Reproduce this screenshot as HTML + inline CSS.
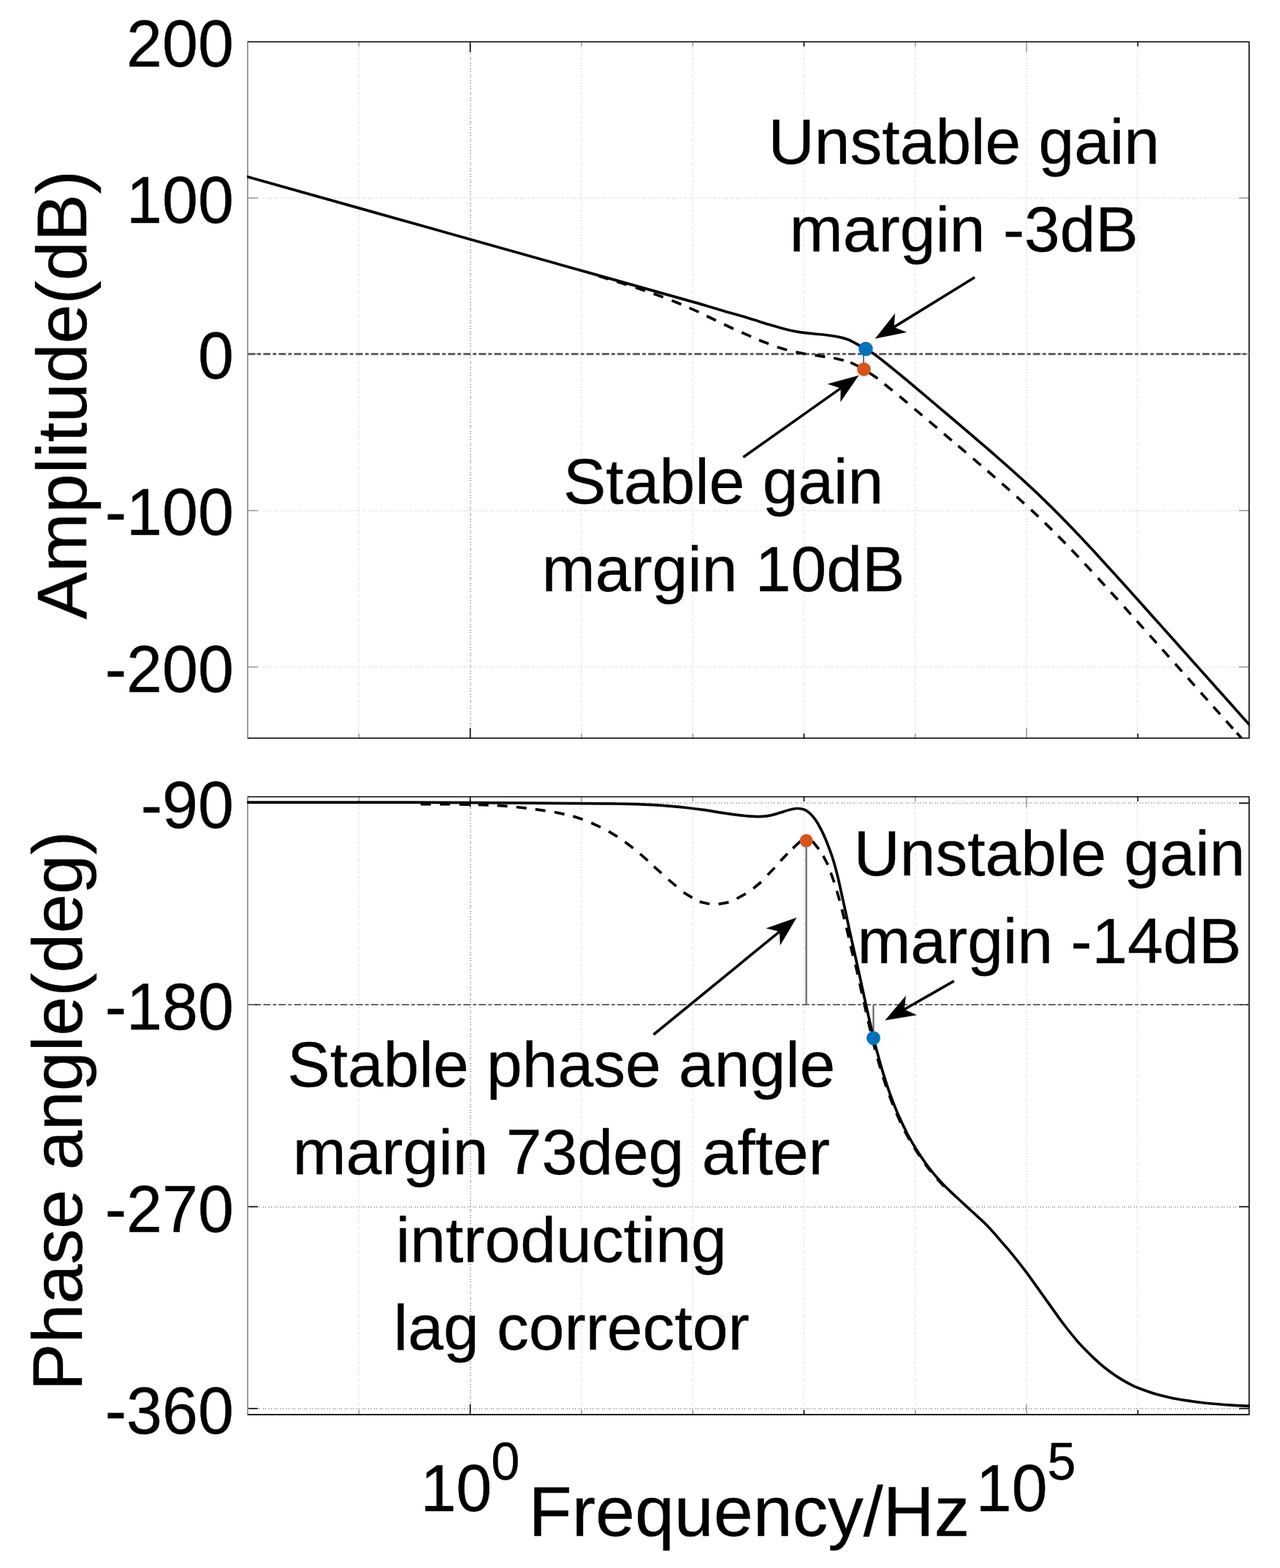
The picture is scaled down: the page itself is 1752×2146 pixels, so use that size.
<!DOCTYPE html>
<html lang="en"><head><meta charset="utf-8"><title>Bode plot</title>
<style>html,body{margin:0;padding:0;background:#fff;}body{width:1752px;height:2146px;overflow:hidden;}svg{display:block;}text{font-family:'Liberation Sans', Arial, Helvetica, sans-serif;fill:#000;stroke:#000;stroke-width:0.35px;}</style>
</head><body>
<svg xmlns="http://www.w3.org/2000/svg" width="1752" height="2146" viewBox="0 0 1752 2146">
<rect x="0" y="0" width="1752" height="2146" fill="#fff"/>
<g id="top">
<line x1="491.00" y1="57.00" x2="491.00" y2="1010.30" stroke="#d8d8d8" stroke-width="2" stroke-dasharray="1 4 1 2"/>
<line x1="644.00" y1="57.00" x2="644.00" y2="1010.30" stroke="#989898" stroke-width="2" stroke-dasharray="1 4 1 2"/>
<line x1="796.00" y1="57.00" x2="796.00" y2="1010.30" stroke="#d8d8d8" stroke-width="2" stroke-dasharray="1 4 1 2"/>
<line x1="948.00" y1="57.00" x2="948.00" y2="1010.30" stroke="#d8d8d8" stroke-width="2" stroke-dasharray="1 4 1 2"/>
<line x1="1100.00" y1="57.00" x2="1100.00" y2="1010.30" stroke="#d8d8d8" stroke-width="2" stroke-dasharray="1 4 1 2"/>
<line x1="1253.00" y1="57.00" x2="1253.00" y2="1010.30" stroke="#d8d8d8" stroke-width="2" stroke-dasharray="1 4 1 2"/>
<line x1="1405.00" y1="57.00" x2="1405.00" y2="1010.30" stroke="#d8d8d8" stroke-width="2" stroke-dasharray="1 4 1 2"/>
<line x1="1557.00" y1="57.00" x2="1557.00" y2="1010.30" stroke="#d8d8d8" stroke-width="2" stroke-dasharray="1 4 1 2"/>
<line x1="339.00" y1="271.00" x2="1709.70" y2="271.00" stroke="#d8d8d8" stroke-width="2" stroke-dasharray="1 4 1 2"/>
<line x1="339.00" y1="699.00" x2="1709.70" y2="699.00" stroke="#d8d8d8" stroke-width="2" stroke-dasharray="1 4 1 2"/>
<line x1="339.00" y1="913.00" x2="1709.70" y2="913.00" stroke="#d8d8d8" stroke-width="2" stroke-dasharray="1 4 1 2"/>
<line x1="491.30" y1="1010.30" x2="491.30" y2="1003.90" stroke="#9a9a9a" stroke-width="1.6"/>
<line x1="491.30" y1="57.20" x2="491.30" y2="63.60" stroke="#9a9a9a" stroke-width="1.6"/>
<line x1="643.60" y1="1010.30" x2="643.60" y2="996.10" stroke="#000" stroke-width="1.6"/>
<line x1="643.60" y1="57.20" x2="643.60" y2="71.40" stroke="#000" stroke-width="1.6"/>
<line x1="795.90" y1="1010.30" x2="795.90" y2="1003.90" stroke="#9a9a9a" stroke-width="1.6"/>
<line x1="795.90" y1="57.20" x2="795.90" y2="63.60" stroke="#9a9a9a" stroke-width="1.6"/>
<line x1="948.20" y1="1010.30" x2="948.20" y2="1003.90" stroke="#9a9a9a" stroke-width="1.6"/>
<line x1="948.20" y1="57.20" x2="948.20" y2="63.60" stroke="#9a9a9a" stroke-width="1.6"/>
<line x1="1100.50" y1="1010.30" x2="1100.50" y2="1003.90" stroke="#000" stroke-width="1.6"/>
<line x1="1100.50" y1="57.20" x2="1100.50" y2="63.60" stroke="#000" stroke-width="1.6"/>
<line x1="1252.80" y1="1010.30" x2="1252.80" y2="1003.90" stroke="#9a9a9a" stroke-width="1.6"/>
<line x1="1252.80" y1="57.20" x2="1252.80" y2="63.60" stroke="#9a9a9a" stroke-width="1.6"/>
<line x1="1405.10" y1="1010.30" x2="1405.10" y2="996.10" stroke="#9a9a9a" stroke-width="1.6"/>
<line x1="1405.10" y1="57.20" x2="1405.10" y2="71.40" stroke="#9a9a9a" stroke-width="1.6"/>
<line x1="1557.40" y1="1010.30" x2="1557.40" y2="1003.90" stroke="#000" stroke-width="1.6"/>
<line x1="1557.40" y1="57.20" x2="1557.40" y2="63.60" stroke="#000" stroke-width="1.6"/>
<line x1="339.00" y1="271.00" x2="352.80" y2="271.00" stroke="#9a9a9a" stroke-width="1.6"/>
<line x1="339.00" y1="484.50" x2="352.80" y2="484.50" stroke="#9a9a9a" stroke-width="1.6"/>
<line x1="339.00" y1="698.70" x2="352.80" y2="698.70" stroke="#9a9a9a" stroke-width="1.6"/>
<line x1="339.00" y1="912.80" x2="352.80" y2="912.80" stroke="#9a9a9a" stroke-width="1.6"/>
<line x1="1709.70" y1="271.00" x2="1695.90" y2="271.00" stroke="#9a9a9a" stroke-width="1.6"/>
<line x1="1709.70" y1="484.50" x2="1695.90" y2="484.50" stroke="#9a9a9a" stroke-width="1.6"/>
<line x1="1709.70" y1="698.70" x2="1695.90" y2="698.70" stroke="#9a9a9a" stroke-width="1.6"/>
<line x1="1709.70" y1="912.80" x2="1695.90" y2="912.80" stroke="#9a9a9a" stroke-width="1.6"/>
<line x1="339.00" y1="56.30" x2="339.00" y2="1011.10" stroke="#9a9a9a" stroke-width="2"/>
<path d="M339.20 57.20 H1709.70 V1010.30 H339.20" fill="none" stroke="#000" stroke-width="1.6" stroke-linejoin="miter"/>
<line x1="339.30" y1="484.50" x2="1709.70" y2="484.50" stroke="#636363" stroke-width="2.9" stroke-dasharray="9.85 3.15 4.87 3.2"/>
<clipPath id="c1"><rect x="338.20" y="57.20" width="1372.40" height="953.90"/></clipPath>
<g clip-path="url(#c1)">
<path d="M819.31 377.73 L832.69 381.87 M844.42 385.55 L857.78 389.75 M869.81 393.49 L883.09 397.91 M894.63 401.94 L907.77 406.76 M919.52 411.25 L932.48 416.55 M943.63 421.41 L956.37 427.19 M967.28 432.48 L979.92 438.52 M991.15 444.05 L1003.85 449.95 M1015.19 454.99 L1028.01 460.61 M1038.98 465.44 L1052.02 470.56 M1063.79 474.99 L1077.21 479.01 M1089.33 481.84 L1103.07 484.56 M1115.49 486.18 L1129.31 488.42 M1141.20 489.93 L1154.80 493.27 M1164.17 496.11 L1176.83 502.09 M1189.81 510.16 L1201.39 518.04 M1210.63 525.73 L1221.57 534.47 M1231.32 542.48 L1242.08 551.43 M1251.65 559.58 L1262.35 568.61 M1271.86 576.64 L1282.54 585.68 M1292.06 593.73 L1302.74 602.79 M1311.57 610.28 L1322.23 619.35 M1331.99 627.67 L1342.61 636.78 M1351.61 644.51 L1362.19 653.69 M1371.56 661.86 L1382.04 671.14 M1391.52 679.59 L1401.88 689.01 M1411.21 697.62 L1421.39 707.22 M1430.10 715.59 L1440.10 725.39 M1448.59 733.89 L1458.41 743.87 M1466.77 752.55 L1476.43 762.68 M1484.63 771.43 L1494.17 781.68 M1502.87 791.13 L1512.33 801.46 M1520.50 810.45 L1529.90 820.82 M1538.62 830.49 L1547.98 840.89 M1556.13 849.96 L1565.47 860.39 M1573.73 869.62 L1583.07 880.05 M1590.94 888.86 L1600.26 899.30 M1608.54 908.57 L1617.86 919.01 M1625.94 928.07 L1635.26 938.51 M1643.64 947.91 L1652.96 958.36 M1660.84 967.20 L1670.16 977.64 M1678.34 986.82 L1687.66 997.27 M1692.84 1003.08 L1702.16 1013.53 M1708.34 1020.47 L1717.66 1030.92" fill="none" stroke="#000" stroke-width="3.70"/>
<path d="M336.00 241.16 C336.50 241.30 295.00 229.64 339.00 242.00 C383.00 254.36 519.83 292.78 600.00 315.30 C680.17 337.82 761.67 360.71 820.00 377.10 C878.33 393.49 925.00 406.59 950.00 413.65 C975.00 420.71 963.33 417.47 970.00 419.45 C976.67 421.43 983.22 423.54 990.00 425.50 C996.78 427.46 1003.78 429.18 1010.70 431.20 C1017.62 433.22 1024.58 435.45 1031.50 437.60 C1038.42 439.75 1045.30 442.03 1052.20 444.10 C1059.10 446.17 1067.13 448.48 1072.90 450.00 C1078.67 451.52 1082.18 452.30 1086.80 453.20 C1091.42 454.10 1095.87 454.77 1100.60 455.40 C1105.33 456.03 1110.85 456.57 1115.20 457.00 C1119.55 457.43 1122.87 457.58 1126.70 458.00 C1130.53 458.42 1134.32 458.90 1138.20 459.50 C1142.08 460.10 1146.03 460.63 1150.00 461.60 C1153.97 462.57 1158.00 463.65 1162.00 465.30 C1166.00 466.95 1170.18 469.43 1174.00 471.50 C1177.82 473.57 1181.53 475.77 1184.90 477.70 C1188.27 479.63 1189.65 479.93 1194.20 483.10 C1198.75 486.27 1205.75 491.63 1212.20 496.70 C1218.65 501.77 1226.60 508.33 1232.90 513.50 C1239.20 518.67 1245.48 523.95 1250.00 527.73 C1254.52 531.51 1256.67 533.36 1260.00 536.18 C1263.33 538.99 1266.67 541.81 1270.00 544.63 C1273.33 547.44 1276.67 550.26 1280.00 553.08 C1283.33 555.90 1286.67 558.72 1290.00 561.54 C1293.33 564.36 1296.67 567.19 1300.00 570.01 C1303.33 572.84 1306.67 575.67 1310.00 578.50 C1313.33 581.33 1316.67 584.16 1320.00 587.00 C1323.33 589.84 1326.67 592.68 1330.00 595.53 C1333.33 598.38 1336.67 601.23 1340.00 604.09 C1343.33 606.95 1346.67 609.81 1350.00 612.69 C1353.33 615.56 1356.67 618.45 1360.00 621.34 C1363.33 624.24 1366.67 627.14 1370.00 630.07 C1373.33 632.99 1376.67 635.92 1380.00 638.88 C1383.33 641.84 1386.67 644.81 1390.00 647.80 C1393.33 650.80 1396.67 653.81 1400.00 656.86 C1403.33 659.91 1406.67 662.97 1410.00 666.08 C1413.33 669.18 1416.67 672.31 1420.00 675.47 C1423.33 678.64 1426.67 681.83 1430.00 685.07 C1433.33 688.30 1436.67 691.57 1440.00 694.87 C1443.33 698.17 1446.67 701.51 1450.00 704.88 C1453.33 708.25 1456.67 711.66 1460.00 715.09 C1463.33 718.53 1466.67 721.99 1470.00 725.49 C1473.33 728.98 1476.67 732.50 1480.00 736.05 C1483.33 739.59 1486.67 743.16 1490.00 746.75 C1493.33 750.33 1496.67 753.94 1500.00 757.56 C1503.33 761.18 1506.67 764.82 1510.00 768.47 C1513.33 772.12 1516.67 775.78 1520.00 779.45 C1523.33 783.12 1526.67 786.80 1530.00 790.49 C1533.33 794.18 1536.67 797.87 1540.00 801.57 C1543.33 805.27 1546.67 808.98 1550.00 812.69 C1553.33 816.40 1556.67 820.12 1560.00 823.83 C1563.33 827.55 1566.67 831.27 1570.00 835.00 C1573.33 838.72 1576.67 842.44 1580.00 846.17 C1583.33 849.90 1586.67 853.63 1590.00 857.36 C1593.33 861.09 1596.67 864.82 1600.00 868.55 C1603.33 872.29 1606.67 876.02 1610.00 879.75 C1613.33 883.49 1616.67 887.22 1620.00 890.96 C1623.33 894.69 1626.67 898.43 1630.00 902.17 C1633.33 905.90 1636.67 909.64 1640.00 913.38 C1643.33 917.11 1646.67 920.85 1650.00 924.59 C1653.33 928.33 1656.67 932.06 1660.00 935.80 C1663.33 939.54 1666.67 943.28 1670.00 947.02 C1673.33 950.75 1676.67 954.49 1680.00 958.23 C1683.33 961.97 1686.67 965.71 1690.00 969.45 C1693.33 973.19 1696.67 976.92 1700.00 980.66 C1703.33 984.40 1706.67 988.14 1710.00 991.88 C1713.33 995.62 1718.33 1001.23 1720.00 1003.10" fill="none" stroke="#000" stroke-width="3.7"/>
</g>
<line x1="1182.00" y1="484.50" x2="1182.00" y2="505.40" stroke="#606060" stroke-width="1.8"/>
<circle cx="1182.50" cy="505.40" r="9.30" fill="#D95319"/>
<circle cx="1184.95" cy="477.55" r="9.80" fill="#0072BD"/>
</g>
<g id="bottom">
<line x1="491.00" y1="1090.00" x2="491.00" y2="1936.10" stroke="#d8d8d8" stroke-width="2" stroke-dasharray="1 4 1 2"/>
<line x1="644.00" y1="1090.00" x2="644.00" y2="1936.10" stroke="#989898" stroke-width="2" stroke-dasharray="1 4 1 2"/>
<line x1="796.00" y1="1090.00" x2="796.00" y2="1936.10" stroke="#d8d8d8" stroke-width="2" stroke-dasharray="1 4 1 2"/>
<line x1="948.00" y1="1090.00" x2="948.00" y2="1936.10" stroke="#d8d8d8" stroke-width="2" stroke-dasharray="1 4 1 2"/>
<line x1="1100.00" y1="1090.00" x2="1100.00" y2="1936.10" stroke="#d8d8d8" stroke-width="2" stroke-dasharray="1 4 1 2"/>
<line x1="1253.00" y1="1090.00" x2="1253.00" y2="1936.10" stroke="#d8d8d8" stroke-width="2" stroke-dasharray="1 4 1 2"/>
<line x1="1405.00" y1="1090.00" x2="1405.00" y2="1936.10" stroke="#d8d8d8" stroke-width="2" stroke-dasharray="1 4 1 2"/>
<line x1="1557.00" y1="1090.00" x2="1557.00" y2="1936.10" stroke="#d8d8d8" stroke-width="2" stroke-dasharray="1 4 1 2"/>
<line x1="339.00" y1="1099.00" x2="1709.70" y2="1099.00" stroke="#989898" stroke-width="2" stroke-dasharray="1 4 1 2"/>
<line x1="339.00" y1="1652.00" x2="1709.70" y2="1652.00" stroke="#989898" stroke-width="2" stroke-dasharray="1 4 1 2"/>
<line x1="339.00" y1="1928.00" x2="1709.70" y2="1928.00" stroke="#989898" stroke-width="2" stroke-dasharray="1 4 1 2"/>
<line x1="491.30" y1="1936.10" x2="491.30" y2="1929.70" stroke="#9a9a9a" stroke-width="1.6"/>
<line x1="491.30" y1="1090.50" x2="491.30" y2="1096.90" stroke="#9a9a9a" stroke-width="1.6"/>
<line x1="643.60" y1="1936.10" x2="643.60" y2="1921.90" stroke="#000" stroke-width="1.6"/>
<line x1="643.60" y1="1090.50" x2="643.60" y2="1104.70" stroke="#000" stroke-width="1.6"/>
<line x1="795.90" y1="1936.10" x2="795.90" y2="1929.70" stroke="#9a9a9a" stroke-width="1.6"/>
<line x1="795.90" y1="1090.50" x2="795.90" y2="1096.90" stroke="#9a9a9a" stroke-width="1.6"/>
<line x1="948.20" y1="1936.10" x2="948.20" y2="1929.70" stroke="#9a9a9a" stroke-width="1.6"/>
<line x1="948.20" y1="1090.50" x2="948.20" y2="1096.90" stroke="#9a9a9a" stroke-width="1.6"/>
<line x1="1100.50" y1="1936.10" x2="1100.50" y2="1929.70" stroke="#000" stroke-width="1.6"/>
<line x1="1100.50" y1="1090.50" x2="1100.50" y2="1096.90" stroke="#000" stroke-width="1.6"/>
<line x1="1252.80" y1="1936.10" x2="1252.80" y2="1929.70" stroke="#9a9a9a" stroke-width="1.6"/>
<line x1="1252.80" y1="1090.50" x2="1252.80" y2="1096.90" stroke="#9a9a9a" stroke-width="1.6"/>
<line x1="1405.10" y1="1936.10" x2="1405.10" y2="1921.90" stroke="#9a9a9a" stroke-width="1.6"/>
<line x1="1405.10" y1="1090.50" x2="1405.10" y2="1104.70" stroke="#9a9a9a" stroke-width="1.6"/>
<line x1="1557.40" y1="1936.10" x2="1557.40" y2="1929.70" stroke="#000" stroke-width="1.6"/>
<line x1="1557.40" y1="1090.50" x2="1557.40" y2="1096.90" stroke="#000" stroke-width="1.6"/>
<line x1="339.00" y1="1375.05" x2="352.80" y2="1375.05" stroke="#000" stroke-width="1.6"/>
<line x1="339.00" y1="1651.50" x2="352.80" y2="1651.50" stroke="#000" stroke-width="1.6"/>
<line x1="339.00" y1="1927.70" x2="352.80" y2="1927.70" stroke="#000" stroke-width="1.6"/>
<line x1="1709.70" y1="1099.20" x2="1695.90" y2="1099.20" stroke="#000" stroke-width="1.6"/>
<line x1="1709.70" y1="1375.05" x2="1695.90" y2="1375.05" stroke="#000" stroke-width="1.6"/>
<line x1="1709.70" y1="1651.50" x2="1695.90" y2="1651.50" stroke="#000" stroke-width="1.6"/>
<line x1="1709.70" y1="1927.70" x2="1695.90" y2="1927.70" stroke="#000" stroke-width="1.6"/>
<line x1="339.00" y1="1089.60" x2="339.00" y2="1936.90" stroke="#9a9a9a" stroke-width="2"/>
<path d="M339.20 1090.50 H1709.70 V1936.10 H339.20" fill="none" stroke="#000" stroke-width="1.6" stroke-linejoin="miter"/>
<line x1="339.30" y1="1375.05" x2="1709.70" y2="1375.05" stroke="#686868" stroke-width="2.0" stroke-dasharray="9.85 3.15 4.87 3.2"/>
<clipPath id="c2"><rect x="338.20" y="1090.50" width="1372.40" height="846.40"/></clipPath>
<line x1="1103.60" y1="1150.60" x2="1103.60" y2="1375.05" stroke="#6a6a6a" stroke-width="2.3"/>
<line x1="1195.50" y1="1375.05" x2="1195.50" y2="1420.75" stroke="#6a6a6a" stroke-width="2.3"/>
<g clip-path="url(#c2)">
<path d="M575.80 1100.74 L589.80 1100.66 M602.10 1100.66 L616.10 1100.74 M628.80 1100.88 L642.80 1101.12 M654.60 1101.36 L668.60 1101.84 M680.62 1102.30 L694.58 1103.30 M706.74 1104.53 L720.66 1106.07 M732.77 1107.59 L746.63 1109.61 M758.85 1111.47 L772.55 1114.33 M784.34 1117.13 L797.66 1121.47 M809.34 1126.27 L822.06 1132.13 M833.10 1137.89 L845.10 1145.11 M855.40 1152.30 L866.60 1160.70 M876.11 1168.61 L886.69 1177.79 M895.01 1185.80 L905.39 1195.20 M914.92 1203.92 L925.68 1212.88 M935.65 1221.32 L947.55 1228.68 M957.57 1234.15 L971.23 1237.25 M983.61 1237.36 L997.39 1234.84 M1008.48 1229.80 L1020.82 1223.20 M1031.12 1215.97 L1041.88 1207.03 M1050.71 1197.55 L1060.39 1187.45 M1068.26 1178.35 L1077.94 1168.25 M1085.20 1161.04 L1095.40 1151.46 M1112.12 1151.34 L1120.88 1162.26 M1126.77 1171.29 L1133.23 1183.71 M1137.14 1194.41 L1141.86 1207.59 M1145.46 1219.27 L1149.34 1232.73 M1152.28 1244.51 L1155.72 1258.09 M1158.57 1269.69 L1161.83 1283.31 M1164.35 1294.70 L1167.65 1308.30 M1170.83 1320.16 L1174.07 1333.78 M1176.67 1345.90 L1179.73 1359.56 M1182.43 1371.68 L1185.54 1385.33 M1188.32 1397.42 L1191.52 1411.05 M1194.31 1423.20 L1197.81 1436.76 M1201.17 1448.71 L1205.11 1462.15 M1208.72 1474.08 L1213.12 1487.37 M1217.25 1499.16 L1222.27 1512.22 M1227.02 1523.77 L1232.79 1536.52 M1238.27 1547.75 L1244.94 1560.06 M1251.32 1570.81 L1258.91 1582.58 M1266.02 1592.86 L1274.56 1603.95 M1282.63 1613.49 L1292.16 1623.76" fill="none" stroke="#000" stroke-width="3.70"/>
<path d="M336.00 1098.20 C336.50 1098.20 301.67 1098.20 339.00 1098.20 C376.33 1098.20 499.83 1098.08 560.00 1098.20 C620.17 1098.32 660.00 1098.67 700.00 1098.90 C740.00 1099.13 777.00 1099.43 800.00 1099.60 C823.00 1099.77 826.00 1099.73 838.00 1099.90 C850.00 1100.07 862.50 1100.30 872.00 1100.60 C881.50 1100.90 887.33 1101.23 895.00 1101.70 C902.67 1102.17 910.50 1102.77 918.00 1103.40 C925.50 1104.03 932.50 1104.67 940.00 1105.50 C947.50 1106.33 955.32 1107.30 963.00 1108.40 C970.68 1109.50 978.42 1110.95 986.10 1112.10 C993.78 1113.25 1002.38 1114.45 1009.10 1115.30 C1015.82 1116.15 1021.60 1116.81 1026.40 1117.20 C1031.20 1117.59 1034.07 1117.72 1037.90 1117.65 C1041.73 1117.58 1045.55 1117.34 1049.40 1116.80 C1053.25 1116.26 1057.15 1115.42 1061.00 1114.40 C1064.85 1113.38 1068.67 1111.85 1072.50 1110.70 C1076.33 1109.55 1080.73 1108.20 1084.00 1107.50 C1087.27 1106.80 1089.32 1106.43 1092.10 1106.50 C1094.88 1106.57 1098.21 1107.00 1100.70 1107.90 C1103.19 1108.80 1105.03 1110.28 1107.05 1111.90 C1109.07 1113.53 1110.88 1115.35 1112.80 1117.65 C1114.72 1119.95 1116.68 1122.62 1118.60 1125.70 C1120.52 1128.78 1122.38 1132.26 1124.30 1136.10 C1126.22 1139.94 1128.17 1144.15 1130.10 1148.75 C1132.03 1153.35 1134.17 1158.99 1135.90 1163.70 C1137.63 1168.41 1138.75 1171.18 1140.50 1177.00 C1142.25 1182.82 1144.48 1190.77 1146.40 1198.60 C1148.33 1206.43 1150.17 1215.53 1152.05 1224.00 C1153.93 1232.47 1155.83 1240.78 1157.70 1249.40 C1159.58 1258.02 1161.42 1267.08 1163.30 1275.70 C1165.18 1284.32 1167.12 1292.63 1169.00 1301.10 C1170.88 1309.57 1173.17 1320.02 1174.60 1326.50 C1176.03 1332.98 1176.23 1333.75 1177.60 1340.00 C1178.97 1346.25 1181.07 1356.17 1182.80 1364.00 C1184.53 1371.83 1186.31 1379.72 1187.95 1387.00 C1189.59 1394.28 1191.39 1402.08 1192.65 1407.70 C1193.91 1413.33 1194.09 1415.10 1195.50 1420.75 C1196.91 1426.40 1199.07 1434.21 1201.10 1441.60 C1203.13 1448.99 1205.35 1457.27 1207.70 1465.10 C1210.05 1472.93 1212.97 1481.95 1215.20 1488.60 C1217.43 1495.25 1218.58 1498.50 1221.10 1505.00 C1223.62 1511.50 1226.85 1519.85 1230.30 1527.60 C1233.75 1535.35 1237.77 1543.85 1241.80 1551.50 C1245.83 1559.15 1249.70 1565.92 1254.50 1573.50 C1259.30 1581.08 1264.83 1589.42 1270.60 1597.00 C1276.37 1604.58 1282.75 1612.17 1289.10 1619.00 C1295.45 1625.83 1302.17 1631.83 1308.70 1638.00 C1315.23 1644.17 1321.15 1649.42 1328.25 1656.00 C1335.35 1662.58 1344.34 1670.40 1351.30 1677.50 C1358.26 1684.60 1364.00 1691.72 1370.00 1698.60 C1376.00 1705.48 1381.48 1711.68 1387.30 1718.80 C1393.12 1725.92 1399.15 1733.62 1404.90 1741.30 C1410.65 1748.98 1416.10 1756.93 1421.80 1764.90 C1427.50 1772.87 1433.33 1781.08 1439.10 1789.10 C1444.87 1797.12 1450.63 1805.43 1456.40 1813.00 C1462.17 1820.57 1469.77 1829.75 1473.70 1834.50 C1477.63 1839.25 1476.07 1837.45 1480.00 1841.50 C1483.93 1845.55 1491.53 1853.42 1497.30 1858.80 C1503.07 1864.18 1508.85 1869.28 1514.60 1873.80 C1520.35 1878.32 1526.05 1882.25 1531.80 1885.90 C1537.55 1889.55 1544.79 1893.43 1549.10 1895.70 C1553.41 1897.97 1552.25 1897.47 1557.65 1899.50 C1563.05 1901.53 1574.08 1905.60 1581.50 1907.85 C1588.92 1910.10 1595.28 1911.53 1602.20 1913.00 C1609.12 1914.47 1616.08 1915.62 1623.00 1916.70 C1629.92 1917.78 1636.80 1918.70 1643.70 1919.50 C1650.60 1920.30 1657.48 1920.90 1664.40 1921.50 C1671.32 1922.10 1677.64 1922.62 1685.20 1923.10 C1692.76 1923.58 1704.95 1924.15 1709.75 1924.40 C1714.55 1924.65 1713.29 1924.57 1714.00 1924.60" fill="none" stroke="#000" stroke-width="3.7"/>
</g>
<circle cx="1103.60" cy="1150.60" r="9.00" fill="#D95319"/>
<circle cx="1195.50" cy="1420.75" r="9.50" fill="#0072BD"/>
</g>
<line x1="1334.20" y1="379.50" x2="1223.62" y2="447.65" stroke="#000" stroke-width="3.60"/>
<path d="M1197.70 463.62 L1225.18 428.71 L1223.62 447.65 L1241.23 454.77 Z" fill="#000"/>
<line x1="1017.30" y1="625.80" x2="1150.72" y2="531.38" stroke="#000" stroke-width="3.60"/>
<path d="M1175.57 513.80 L1150.37 550.37 L1150.72 531.38 L1132.69 525.39 Z" fill="#000"/>
<line x1="894.50" y1="1416.00" x2="1066.87" y2="1275.12" stroke="#000" stroke-width="3.60"/>
<path d="M1090.44 1255.86 L1067.84 1294.09 L1066.87 1275.12 L1048.47 1270.40 Z" fill="#000"/>
<line x1="1305.80" y1="1342.60" x2="1237.82" y2="1381.44" stroke="#000" stroke-width="3.60"/>
<path d="M1211.39 1396.55 L1240.01 1362.57 L1237.82 1381.44 L1255.19 1389.14 Z" fill="#000"/>
<text transform="translate(319.90 90.95) scale(1.0000 1.0300)" font-size="88.00" text-anchor="end">200</text>
<text transform="translate(319.90 304.75) scale(1.0000 1.0300)" font-size="88.00" text-anchor="end">100</text>
<text transform="translate(319.90 518.15) scale(1.0000 1.0300)" font-size="88.00" text-anchor="end">0</text>
<text transform="translate(319.90 732.45) scale(1.0000 1.0300)" font-size="88.00" text-anchor="end">-100</text>
<text transform="translate(319.90 946.55) scale(1.0000 1.0300)" font-size="88.00" text-anchor="end">-200</text>
<text transform="translate(319.90 1133.30) scale(1.0000 1.0300)" font-size="88.00" text-anchor="end">-90</text>
<text transform="translate(319.90 1408.70) scale(1.0000 1.0300)" font-size="88.00" text-anchor="end">-180</text>
<text transform="translate(319.90 1685.60) scale(1.0000 1.0300)" font-size="88.00" text-anchor="end">-270</text>
<text transform="translate(319.90 1961.90) scale(1.0000 1.0300)" font-size="88.00" text-anchor="end">-360</text>
<text x="1319.40" y="224.00" font-size="87.60" text-anchor="middle">Unstable gain</text>
<text x="1319.40" y="343.90" font-size="87.60" text-anchor="middle">margin -3dB</text>
<text x="990.10" y="689.30" font-size="87.60" text-anchor="middle">Stable gain</text>
<text x="990.10" y="809.20" font-size="87.60" text-anchor="middle">margin 10dB</text>
<text x="1436.30" y="1198.00" font-size="87.60" text-anchor="middle">Unstable gain</text>
<text x="1436.30" y="1318.00" font-size="87.60" text-anchor="middle">margin -14dB</text>
<text x="768.30" y="1486.50" font-size="87.60" text-anchor="middle">Stable phase angle</text>
<text x="768.30" y="1606.60" font-size="87.60" text-anchor="middle">margin 73deg after</text>
<text x="768.30" y="1726.70" font-size="87.60" text-anchor="middle">introducting</text>
<text x="782.20" y="1846.80" font-size="87.60" text-anchor="middle">lag corrector</text>
<text x="1025.30" y="2101.60" font-size="97.00" text-anchor="middle">Frequency/Hz</text>
<text transform="translate(575.40 2068.10) scale(1.0000 1.0300)" font-size="88.00" text-anchor="start">10</text>
<text transform="translate(672.30 2024.80) scale(1.0000 1.0300)" font-size="70.40" text-anchor="start">0</text>
<text transform="translate(1335.80 2068.10) scale(1.0000 1.0300)" font-size="88.00" text-anchor="start">10</text>
<text transform="translate(1433.40 2024.80) scale(1.0000 1.0300)" font-size="70.40" text-anchor="start">5</text>
<text transform="translate(117.90 540.50) rotate(-90)" font-size="97.00" text-anchor="middle">Amplitude(dB)</text>
<text transform="translate(112.00 1520.30) rotate(-90)" font-size="97.00" text-anchor="middle">Phase angle(deg)</text>
</svg>
</body></html>
